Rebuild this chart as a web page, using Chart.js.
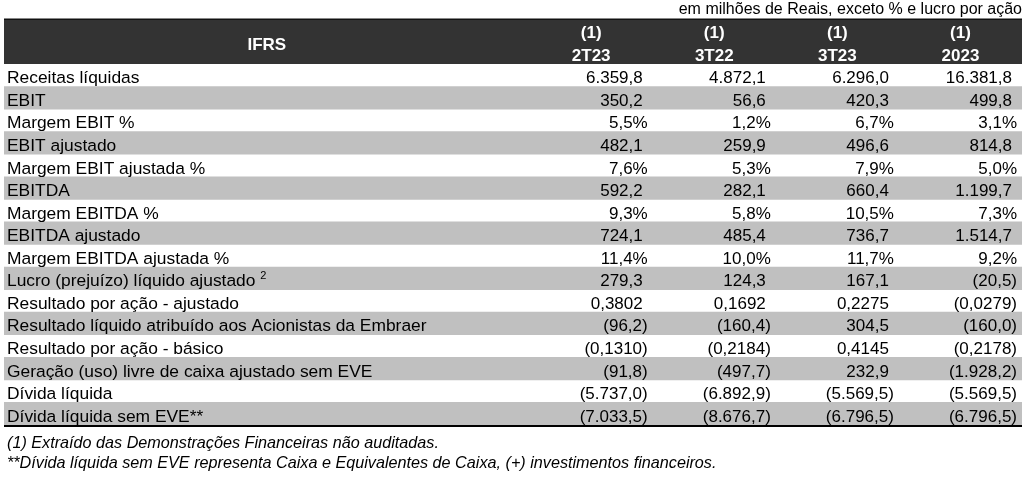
<!DOCTYPE html>
<html>
<head>
<meta charset="utf-8">
<script src="https://cdn.jsdelivr.net/npm/chart.js@4.4.1/dist/chart.umd.min.js"></script>
<style>
html,body{margin:0;padding:0;background:#fff;}
#wrap{width:1024px;height:478px;position:relative;}
</style>
</head>
<body>
<div id="wrap"><canvas id="c" width="1024" height="478"></canvas></div>
<script>
const caption = 'em milhões de Reais, exceto % e lucro por ação';
const headerTitle = 'IFRS';
const columnNotes = ['(1)', '(1)', '(1)', '(1)'];
const columns = ['2T23', '3T22', '3T23', '2023'];
const rowLabels = [
  'Receitas líquidas',
  'EBIT',
  'Margem EBIT %',
  'EBIT ajustado',
  'Margem EBIT ajustada %',
  'EBITDA',
  'Margem EBITDA %',
  'EBITDA ajustado',
  'Margem EBITDA ajustada %',
  'Lucro (prejuízo) líquido ajustado',
  'Resultado por ação - ajustado',
  'Resultado líquido atribuído aos Acionistas da Embraer',
  'Resultado por ação - básico',
  'Geração (uso) livre de caixa ajustado sem EVE',
  'Dívida líquida',
  'Dívida líquida sem EVE**'
];
const rowNotes = ['', '', '', '', '', '', '', '', '', '2', '', '', '', '', '', ''];
const values2T23 = ['6.359,8', '350,2', '5,5%', '482,1', '7,6%', '592,2', '9,3%', '724,1', '11,4%', '279,3', '0,3802', '(96,2)', '(0,1310)', '(91,8)', '(5.737,0)', '(7.033,5)'];
const values3T22 = ['4.872,1', '56,6', '1,2%', '259,9', '5,3%', '282,1', '5,8%', '485,4', '10,0%', '124,3', '0,1692', '(160,4)', '(0,2184)', '(497,7)', '(6.892,9)', '(8.676,7)'];
const values3T23 = ['6.296,0', '420,3', '6,7%', '496,6', '7,9%', '660,4', '10,5%', '736,7', '11,7%', '167,1', '0,2275', '304,5', '0,4145', '232,9', '(5.569,5)', '(6.796,5)'];
const values2023 = ['16.381,8', '499,8', '3,1%', '814,8', '5,0%', '1.199,7', '7,3%', '1.514,7', '9,2%', '(20,5)', '(0,0279)', '(160,0)', '(0,2178)', '(1.928,2)', '(5.569,5)', '(6.796,5)'];
const footnotes = [
  '(1) Extraído das Demonstrações Financeiras não auditadas.',
  '**Dívida líquida sem EVE representa Caixa e Equivalentes de Caixa, (+) investimentos financeiros.'
];

const columnValues = [values2T23, values3T22, values3T23, values2023];
const labelColumnUnits = 4.27;
const FONT = '"Liberation Sans", Arial, Helvetica, sans-serif';

const bandData = rowLabels.map((_, i) => (i % 2 === 1 ? [-labelColumnUnits, columns.length] : null));

const tablePlugin = {
  id: 'tableText',
  afterDraw(chart) {
    const ctx = chart.ctx;
    const xs = chart.scales.x;
    const ys = chart.scales.y;
    const area = chart.chartArea;
    const left = area.left, right = area.right, width = right - left;
    ctx.save();

    // caption
    ctx.fillStyle = '#000';
    ctx.font = '16px ' + FONT;
    ctx.textAlign = 'right';
    ctx.textBaseline = 'alphabetic';
    ctx.fillText(caption, right, 14);

    // header band
    ctx.fillStyle = '#333333';
    ctx.fillRect(left, 19, width, area.top - 19);
    ctx.fillStyle = '#111';
    ctx.fillRect(left, 18.5, width, 1.5);

    ctx.fillStyle = '#ffffff';
    ctx.font = 'bold 17px ' + FONT;
    ctx.textAlign = 'center';
    ctx.fillText(headerTitle, xs.getPixelForValue(-labelColumnUnits / 2), 50);
    columns.forEach((c, j) => {
      const cx = xs.getPixelForValue(j + 0.5);
      ctx.fillText(columnNotes[j], cx, 38);
      ctx.fillText(c, cx, 61);
    });

    // rows
    ctx.fillStyle = '#000';
    rowLabels.forEach((lab, i) => {
      const base = ys.getPixelForValue(i) + 8;
      ctx.font = '17.4px ' + FONT;
      ctx.textAlign = 'left';
      ctx.fillText(lab, left + 3, base);
      if (rowNotes[i]) {
        const w = ctx.measureText(lab + ' ').width;
        ctx.font = '11px ' + FONT;
        ctx.fillText(rowNotes[i], left + 3 + w, base - 7);
      }
      ctx.font = '17px ' + FONT;
      ctx.textAlign = 'right';
      columnValues.forEach((vals, j) => {
        const t = vals[i];
        const edge = xs.getPixelForValue(j + 1);
        const pad = /[)%]$/.test(t) ? 5 : 10;
        ctx.fillText(t, edge - pad, base);
      });
    });

    // bottom rule
    ctx.fillStyle = '#000';
    ctx.fillRect(left, area.bottom, width, 2);

    // footnotes
    ctx.font = 'italic 16.2px ' + FONT;
    ctx.textAlign = 'left';
    ctx.fillStyle = '#000';
    ctx.fillText(footnotes[0], 7, 448);
    ctx.fillText(footnotes[1], 7, 468);

    ctx.restore();
  }
};

new Chart(document.getElementById('c').getContext('2d'), {
  type: 'bar',
  data: {
    labels: rowLabels,
    datasets: [{
      data: bandData,
      backgroundColor: '#c0c0c0',
      borderWidth: 0,
      barPercentage: 1,
      categoryPercentage: 1,
      borderSkipped: false
    }]
  },
  options: {
    indexAxis: 'y',
    responsive: false,
    animation: false,
    devicePixelRatio: 1,
    layout: { padding: { left: 4, right: 2, top: 64, bottom: 53 } },
    plugins: { legend: { display: false }, tooltip: { enabled: false } },
    scales: {
      x: { type: 'linear', min: -labelColumnUnits, max: columns.length, display: false },
      y: { type: 'category', display: false, offset: true, grid: { display: false } }
    }
  },
  plugins: [tablePlugin]
});
</script>
</body>
</html>
